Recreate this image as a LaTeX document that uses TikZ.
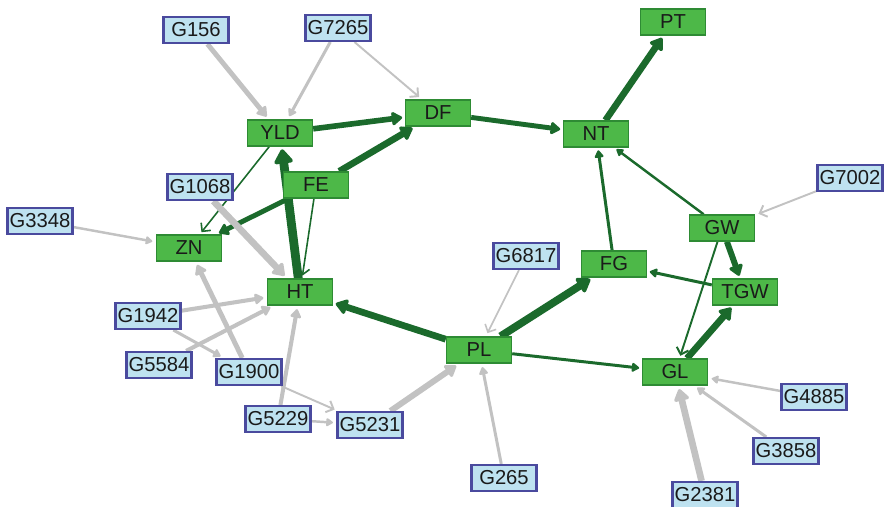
\documentclass[tikz,border=0pt]{standalone}
\usepackage{fontspec}
\setmainfont{Liberation Sans}
\usetikzlibrary{arrows.meta}
\pgfdeclarelayer{bg}
\pgfsetlayers{bg,main}
\definecolor{gfill}{HTML}{4DB848}
\definecolor{gborder}{HTML}{2E8B34}
\definecolor{bfill}{HTML}{BEE2F0}
\definecolor{bborder}{HTML}{4A4A9E}
\definecolor{gedge}{HTML}{1B6A2C}
\definecolor{grayedge}{HTML}{C2C2C2}
\definecolor{txt}{HTML}{1A1A1A}
\begin{document}
\begin{tikzpicture}[x=0.02cm,y=-0.02cm,
  box/.style={minimum width=1.3cm, minimum height=0.52cm, inner sep=0pt,
    font=\fontsize{11.5}{12}\selectfont, text=txt},
  gnode/.style={box, draw=gborder, fill=gfill, line width=0.8pt},
  bnode/.style={box, draw=bborder, fill=bfill, line width=1.2pt},
  ge/.style={draw=gedge, line width=#1, shorten >=1.5pt,
    -{Triangle[round,length=2.5pt 1.3,width=2.5pt 1.9]}},
  gbarb/.style={draw=gedge, line width=#1, shorten >=1.5pt,
    -{Straight Barb[length=3.5pt,width=7pt]}},
  ye/.style={draw=grayedge, line width=#1, shorten >=2pt,
    -{Triangle[round,length=2.5pt 1.3,width=2.5pt 1.9]}},
  ybarb/.style={draw=grayedge, line width=#1, shorten >=2pt,
    -{Straight Barb[length=3.5pt,width=7pt]}}]
\useasboundingbox (0,0) rectangle (887,507);
% green nodes
\node[gnode] (PT)  at (673,22)  {PT};
\node[gnode] (DF)  at (438,113) {DF};
\node[gnode] (YLD) at (280,133) {YLD};
\node[gnode] (NT)  at (596,134) {NT};
\node[gnode] (FE)  at (316,185) {FE};
\node[gnode] (ZN)  at (189,248) {ZN};
\node[gnode] (GW)  at (722,228) {GW};
\node[gnode] (FG)  at (614,264) {FG};
\node[gnode] (HT)  at (300,292) {HT};
\node[gnode] (TGW) at (745,292) {TGW};
\node[gnode] (PL)  at (479,350) {PL};
\node[gnode] (GL)  at (675,372) {GL};
% blue nodes
\node[bnode] (G156)  at (196,30)  {G156};
\node[bnode] (G7265) at (338,28)  {G7265};
\node[bnode] (G1068) at (200,187) {G1068};
\node[bnode] (G7002) at (850,178) {G7002};
\node[bnode] (G3348) at (40,221)  {G3348};
\node[bnode] (G6817) at (526,256) {G6817};
\node[bnode] (G1942) at (148,316) {G1942};
\node[bnode] (G5584) at (159,365) {G5584};
\node[bnode] (G1900) at (249,372) {G1900};
\node[bnode] (G4885) at (814,397) {G4885};
\node[bnode] (G5229) at (278,419) {G5229};
\node[bnode] (G5231) at (370,425) {G5231};
\node[bnode] (G3858) at (786,451) {G3858};
\node[bnode] (G265)  at (504,478) {G265};
\node[bnode] (G2381) at (705,495) {G2381};
\begin{pgfonlayer}{bg}
% green edges
\draw[ge=3.2pt] (YLD) -- (DF);
\draw[ge=2.8pt] (DF) -- (NT);
\draw[ge=3.8pt] (FE) -- (DF);
\draw[ge=3.8pt] (NT) -- (PT);
\draw[ge=5pt] (HT) -- (YLD);
\draw[gbarb=0.9pt] (YLD) -- (ZN);
\draw[ge=2.8pt] (FE) -- (ZN);
\draw[gbarb=0.9pt] (FE) -- (HT);
\draw[ge=3.8pt] (PL) -- (HT);
\draw[ge=4.4pt] (PL) -- (FG);
\draw[ge=1.7pt] (PL) -- (GL);
\draw[ge=1.7pt] (FG) -- (NT);
\draw[ge=1.4pt] (GW) -- (NT);
\draw[ge=3.4pt] (GW) -- (TGW);
\draw[ge=1.7pt] (TGW) -- (FG);
\draw[gbarb=1.1pt] (GW) -- (GL);
\draw[ge=3.8pt] (GL) -- (TGW);
% gray edges
\draw[ye=2.8pt] (G156) -- (YLD);
\draw[ye=1.7pt] (G7265) -- (YLD);
\draw[ybarb=1.1pt] (G7265) -- (DF);
\draw[ye=3.8pt] (G1068) -- (HT);
\draw[ye=1.4pt] (G3348) -- (ZN);
\draw[ye=2.8pt] (G1900) -- (ZN);
\draw[ye=2.3pt] (G1942) -- (HT);
\draw[ye=2.3pt] (G5584) -- (HT);
\draw[ye=1.7pt] (G1942) -- (G1900);
\draw[ye=2.3pt] (G5229) -- (HT);
\draw[ybarb=1.1pt] (G1900) -- (G5231);
\draw[ye=1.4pt] (G5229) -- (G5231);
\draw[ye=3.4pt] (G5231) -- (PL);
\draw[ye=1.7pt] (G265) -- (PL);
\draw[ybarb=0.9pt] (G6817) -- (PL);
\draw[ybarb=1.1pt] (G7002) -- (GW);
\draw[ye=1.4pt] (G4885) -- (GL);
\draw[ye=1.7pt] (G3858) -- (GL);
\draw[ye=3.8pt] (G2381) -- (GL);
\end{pgfonlayer}
\end{tikzpicture}
\end{document}
